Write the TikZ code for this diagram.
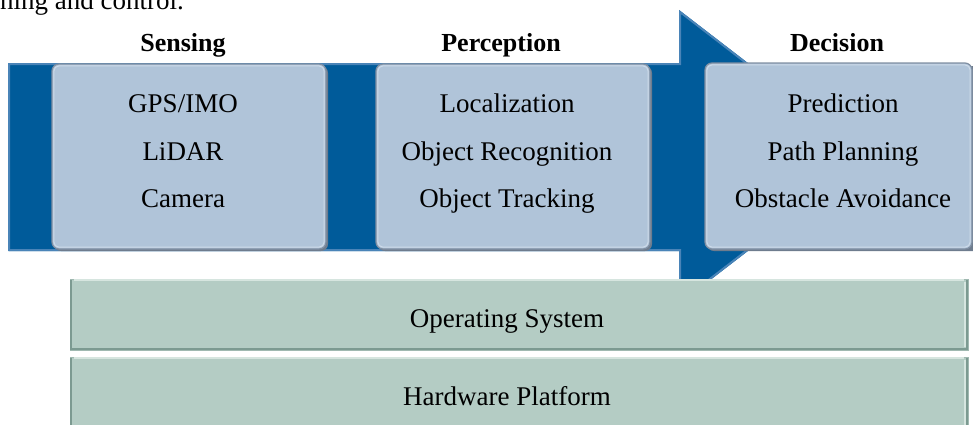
\documentclass[tikz,border=0pt]{standalone}
\usepackage{fontspec}
\setmainfont{Liberation Serif}
\definecolor{bandblue}{RGB}{0,91,154}
\definecolor{bandedge}{RGB}{74,132,184}
\definecolor{boxblue}{RGB}{176,196,217}
\definecolor{boxedge}{RGB}{128,143,162}
\definecolor{boxhl}{RGB}{206,219,233}
\definecolor{boxshadow}{RGB}{110,124,142}
\definecolor{boxgreen}{RGB}{180,204,196}
\definecolor{greenlight}{RGB}{214,229,223}
\definecolor{greendark}{RGB}{124,154,145}
\definecolor{greenedge}{RGB}{160,185,177}
\begin{document}
\begin{tikzpicture}[x=1pt,y=-1pt,
  txt/.style={font=\fontsize{27}{30}\selectfont, anchor=base, inner sep=0pt},
  hdr/.style={font=\fontsize{26}{30}\selectfont\bfseries, anchor=base, inner sep=0pt},
  lbox/.style={rectangle, rounded corners=7pt, fill=boxblue, draw=boxedge, line width=1.2pt, inner sep=0pt},
  gbox/.style={rectangle, fill=boxgreen, draw=greenedge, line width=0.8pt, inner sep=0pt},
  hl/.style={draw=boxhl, line width=1pt, rounded corners=5pt},
  shadowbox/.style={fill=boxshadow, rounded corners=7pt}
]
\useasboundingbox (0,0) rectangle (973,424);
\clip (0,0) rectangle (973,424);

% caption fragment (cut off at top, as in the reference)
\node[txt, anchor=base west] (cap) at (0,9) {ning and control.};

% arrow band
\fill[bandblue] (9,63) -- (679,63) -- (679,10) -- (870,157) -- (679,304) -- (679,251) -- (9,251) -- cycle;
\draw[bandedge, line width=2pt, line join=miter] (9,250) -- (9,64) -- (680,64) -- (680,12) -- (868,157) -- (680,302) -- (680,250) -- cycle;

% headers
\node[hdr] (hsens) at (183,51) {Sensing};
\node[hdr] (hperc) at (501,51) {Perception};
\node[hdr] (hdec) at (837,51) {Decision};

% light boxes
\fill[shadowbox] (54,66) rectangle (328,251);
\node[lbox, minimum width=274pt, minimum height=185pt] (sens) at (189,156.5) {};
\draw[hl] ([shift={(2.5,2.5)}]sens.north west) rectangle ([shift={(-2.5,-2.5)}]sens.south east);

\fill[shadowbox] (378,66) rectangle (652,251);
\node[lbox, minimum width=274pt, minimum height=185pt] (perc) at (513,156.5) {};
\draw[hl] ([shift={(2.5,2.5)}]perc.north west) rectangle ([shift={(-2.5,-2.5)}]perc.south east);

\fill[shadowbox] (707,66) rectangle (980,251);
\node[lbox, minimum width=267pt, minimum height=186pt] (dec) at (838.5,156) {};
\draw[hl] ([shift={(2.5,2.5)}]dec.north west) rectangle ([shift={(-2.5,-2.5)}]dec.south east);

% box texts
\node[txt] (s1) at (183,112) {GPS/IMO};
\node[txt] (s2) at (183,160) {LiDAR};
\node[txt] (s3) at (183,207) {Camera};
\node[txt] (p1) at (507,112) {Localization};
\node[txt] (p2) at (507,160) {Object Recognition};
\node[txt] (p3) at (507,207) {Object Tracking};
\node[txt] (d1) at (843,112) {Prediction};
\node[txt] (d2) at (843,160) {Path Planning};
\node[txt] (d3) at (843,207) {Obstacle Avoidance};

% green layers
\node[gbox, minimum width=898pt, minimum height=71pt] (os) at (519,314.5) {};
\draw[greenlight, line width=2.5pt] ([shift={(4,1.25)}]os.north west) -- ([shift={(-4,1.25)}]os.north east);
\draw[greenlight, line width=2pt] ([shift={(-3,3)}]os.north east) -- ([shift={(-3,-3)}]os.south east);
\draw[greendark, line width=2.5pt] ([shift={(1.25,1.25)}]os.north west) -- ([shift={(1.25,-1.25)}]os.south west) -- ([shift={(-1.25,-1.25)}]os.south east) -- ([shift={(-1.25,1.25)}]os.north east);
\node[txt] (ost) at (507,327) {Operating System};

\node[gbox, minimum width=898pt, minimum height=73pt] (hw) at (519,393.5) {};
\draw[greenlight, line width=2.5pt] ([shift={(4,1.25)}]hw.north west) -- ([shift={(-4,1.25)}]hw.north east);
\draw[greenlight, line width=2pt] ([shift={(-3,3)}]hw.north east) -- ([shift={(-3,-3)}]hw.south east);
\draw[greendark, line width=2.5pt] ([shift={(1.25,1.25)}]hw.north west) -- ([shift={(1.25,-1.25)}]hw.south west) -- ([shift={(-1.25,-1.25)}]hw.south east) -- ([shift={(-1.25,1.25)}]hw.north east);
\node[txt] (hwt) at (507,405) {Hardware Platform};
\end{tikzpicture}
\end{document}
